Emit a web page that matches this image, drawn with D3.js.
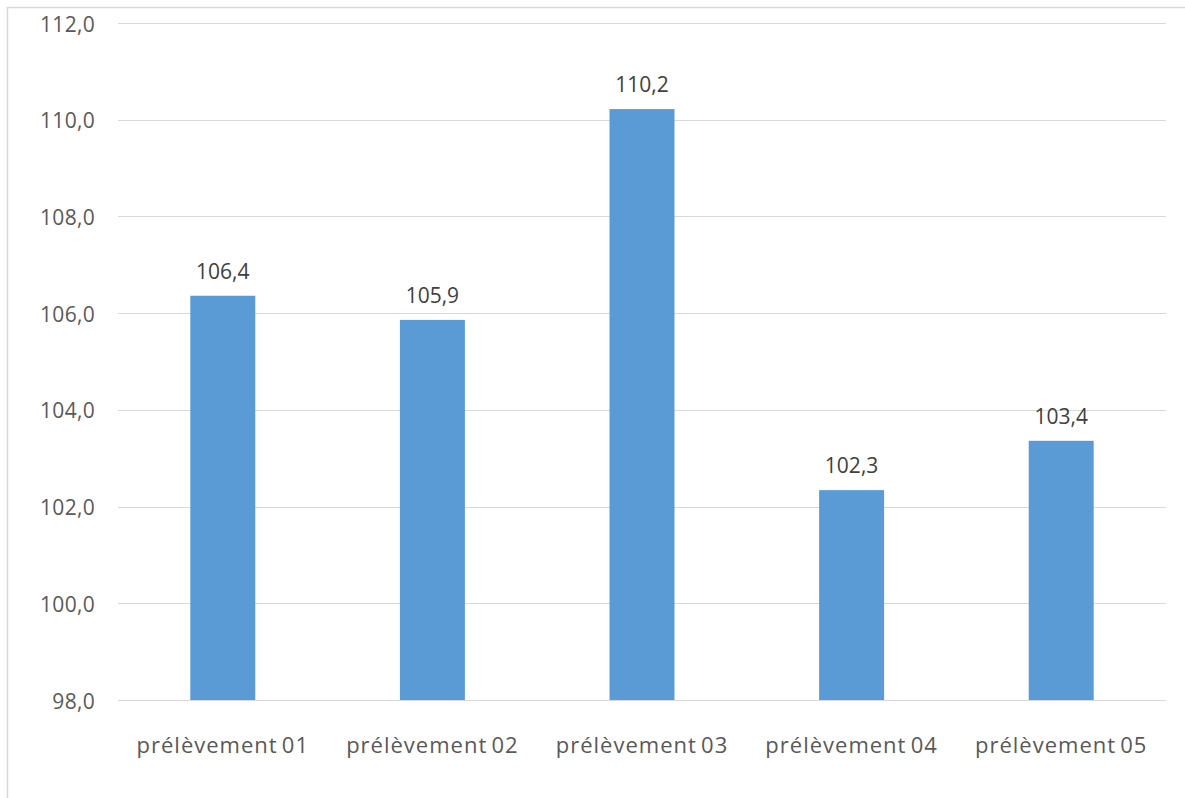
<!DOCTYPE html>
<html><head><meta charset="utf-8">
<script src="https://cdn.jsdelivr.net/npm/d3@7"></script>
<style>body{margin:0;background:#fff;overflow:hidden}</style>
</head><body>
<svg id="c" width="1185" height="798"></svg>
<script>
const categories = ["prélèvement 01","prélèvement 02","prélèvement 03","prélèvement 04","prélèvement 05"];
const values = [106.36, 105.86, 110.22, 102.34, 103.36];
const yTicks = [98, 100, 102, 104, 106, 108, 110, 112];

(function(){
const svg = d3.select("#c");
const fmt = v => d3.format(".1f")(v).replace(".", ",");
const mLeft = 118, mRight = 1166, mTop = 23, mBottom = 700;

svg.append("rect").attr("x",7.5).attr("y",7.5).attr("width",1190).attr("height",800)
  .attr("fill","none").attr("stroke","#d9d9d9").attr("stroke-width",1.5);

const x = d3.scaleBand().domain(categories).range([mLeft, mRight]).paddingInner(0.69).paddingOuter(0.345);
const y = d3.scaleLinear().domain([98, 112]).range([mBottom, mTop]);

svg.append("g").selectAll("line").data(yTicks).join("line")
  .attr("x1", mLeft).attr("x2", mRight)
  .attr("y1", d => Math.round(y(d))+0.5).attr("y2", d => Math.round(y(d))+0.5)
  .attr("stroke", "#d9d9d9").attr("stroke-width", 1);

svg.append("g").selectAll("text").data(yTicks).join("text")
  .attr("x", 95).attr("y", d => y(d) + 8.5)
  .attr("text-anchor","end").attr("fill","#595959")
  .style("font-family","'Open Sans', sans-serif").style("font-size","21px")
  .style("letter-spacing","0.3px")
  .text(d => fmt(d));

svg.append("g").selectAll("rect").data(values).join("rect")
  .attr("x", (d,i) => x(categories[i])).attr("width", x.bandwidth())
  .attr("y", d => y(d)).attr("height", d => y(98) - y(d))
  .attr("fill", "#5b9bd5");

svg.append("g").selectAll("text").data(values).join("text")
  .attr("x", (d,i) => x(categories[i]) + x.bandwidth()/2)
  .attr("y", d => y(d) - 17)
  .attr("text-anchor","middle").attr("fill","#404040")
  .style("font-family","'Open Sans', sans-serif").style("font-size","21px")
  .text(d => fmt(d));

svg.append("g").selectAll("text").data(categories).join("text")
  .attr("x", d => x(d) + x.bandwidth()/2).attr("y", 753)
  .attr("text-anchor","middle").attr("fill","#595959")
  .style("font-family","'Open Sans', sans-serif").style("font-size","22px")
  .style("letter-spacing","1px").style("word-spacing","-2.5px")
  .text(d => d);
})();
</script>
</body></html>
